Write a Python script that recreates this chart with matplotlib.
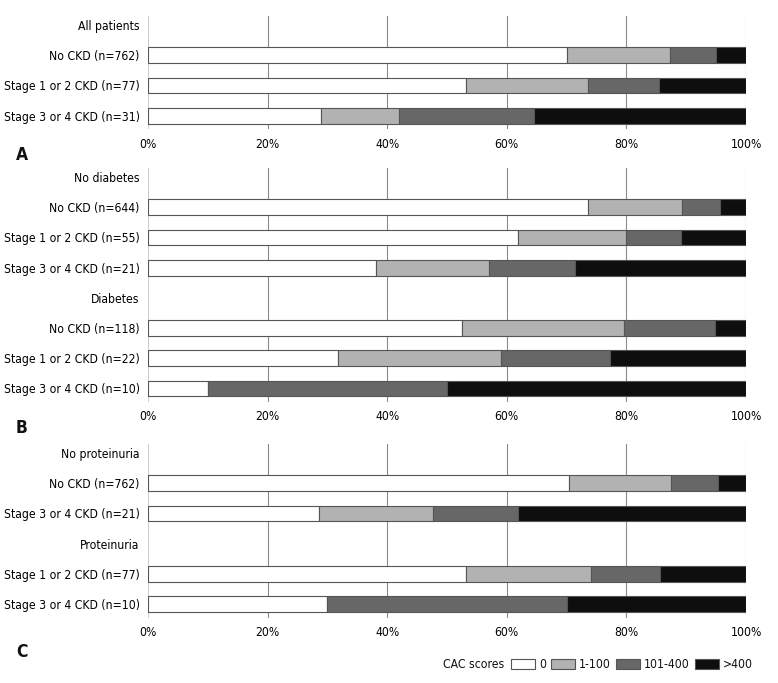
import matplotlib
matplotlib.use('Agg')
import matplotlib.pyplot as plt
import matplotlib.patches as mpatches
import numpy as np

FS = 8.7
plt.rcParams.update({
    'font.family': ['DejaVu Sans'],
    'font.stretch': 'condensed',
    'font.size': FS,
    'text.color': '#111111',
})

# ─── Data (percent of patients per CAC category: 0, 1-100, 101-400, >400) ───
CATEGORIES = ['0', '1-100', '101-400', '>400']
COLORS = ['#ffffff', '#b2b2b2', '#676767', '#0e0e0e']

# Panel A: all patients
labels_a = ['All patients', 'No CKD (n=762)', 'Stage 1 or 2 CKD (n=77)', 'Stage 3 or 4 CKD (n=31)']
zero_a = [None, 70.0, 53.2, 29.0]
low_a = [None, 17.3, 20.3, 12.9]
mid_a = [None, 7.7, 11.9, 22.6]
high_a = [None, 5.0, 14.6, 35.5]

# Panel B: by diabetes
labels_b = ['No diabetes', 'No CKD (n=644)', 'Stage 1 or 2 CKD (n=55)', 'Stage 3 or 4 CKD (n=21)',
            'Diabetes', 'No CKD (n=118)', 'Stage 1 or 2 CKD (n=22)', 'Stage 3 or 4 CKD (n=10)']
zero_b = [None, 73.5, 61.8, 38.1, None, 52.5, 31.8, 10.0]
low_b = [None, 15.8, 18.2, 19.0, None, 27.1, 27.3, 0.0]
mid_b = [None, 6.3, 9.1, 14.3, None, 15.2, 18.2, 40.0]
high_b = [None, 4.4, 10.9, 28.6, None, 5.2, 22.7, 50.0]

# Panel C: by proteinuria
labels_c = ['No proteinuria', 'No CKD (n=762)', 'Stage 3 or 4 CKD (n=21)',
            'Proteinuria', 'Stage 1 or 2 CKD (n=77)', 'Stage 3 or 4 CKD (n=10)']
zero_c = [None, 70.4, 28.6, None, 53.2, 30.0]
low_c = [None, 17.0, 19.0, None, 20.8, 0.0]
mid_c = [None, 8.0, 14.3, None, 11.7, 40.0]
high_c = [None, 4.6, 38.1, None, 14.3, 30.0]

W, H = 778, 683
ROW = 30.2          # pixel pitch between rows
TOP_PAD, BOT_PAD = 0.3, 0.45
X0, X1 = 148, 746


def panel(fig, top_px, labels, series, letter, letter_y):
    n = len(labels)
    h_px = (n - 1 + TOP_PAD + BOT_PAD) * ROW
    ax = fig.add_axes([X0 / W, 1 - (top_px + h_px) / H, (X1 - X0) / W, h_px / H])
    y = np.arange(n)
    left = np.zeros(n)
    for vals, color in zip(series, COLORS):
        v = np.array([0 if x is None else x for x in vals], dtype=float)
        mask = np.array([x is not None for x in vals])
        ax.barh(y[mask], v[mask], left=left[mask], height=0.52, color=color,
                edgecolor='#555555', linewidth=0.8, zorder=3)
        left += v
    ax.set_xlim(0, 100)
    ax.set_ylim(n - 1 + BOT_PAD, -TOP_PAD)
    ax.set_xticks(np.arange(0, 101, 20))
    ax.set_xticklabels([f'{t}%' for t in range(0, 101, 20)])
    ax.set_yticks(y)
    ax.set_yticklabels(labels)
    ax.tick_params(length=0, pad=6, labelsize=FS)
    ax.tick_params(axis='y', pad=6)
    for t in range(20, 101, 20):
        ax.axvline(t, color='#8a8a8a', linewidth=0.8, zorder=1)
    ax.axvline(0, color='#c4c4c4', linewidth=1.2, zorder=1)
    for s in ax.spines.values():
        s.set_visible(False)
    fig.text(16 / W, 1 - letter_y / H, letter, fontsize=12.5, fontweight='bold',
             ha='left', va='center')
    return ax


fig = plt.figure(figsize=(W / 100, H / 100), dpi=100)

panel(fig, 16, labels_a, [zero_a, low_a, mid_a, high_a], 'A', 155)
panel(fig, 168, labels_b, [zero_b, low_b, mid_b, high_b], 'B', 428)
panel(fig, 444, labels_c, [zero_c, low_c, mid_c, high_c], 'C', 652)

handles = [mpatches.Patch(facecolor=c, edgecolor='#555555', linewidth=0.8) for c in COLORS]
fig.text(504 / W, 1 - 665 / H, 'CAC scores', ha='right', va='center', fontsize=FS)
fig.legend(handles, CATEGORIES, ncol=4, frameon=False, loc='center left',
           bbox_to_anchor=(511 / W, 1 - 665 / H), handlelength=2.0, handleheight=0.85,
           handletextpad=0.3, columnspacing=0.45, borderpad=0, borderaxespad=0,
           fontsize=FS)

fig.savefig('out.png', dpi=100)
